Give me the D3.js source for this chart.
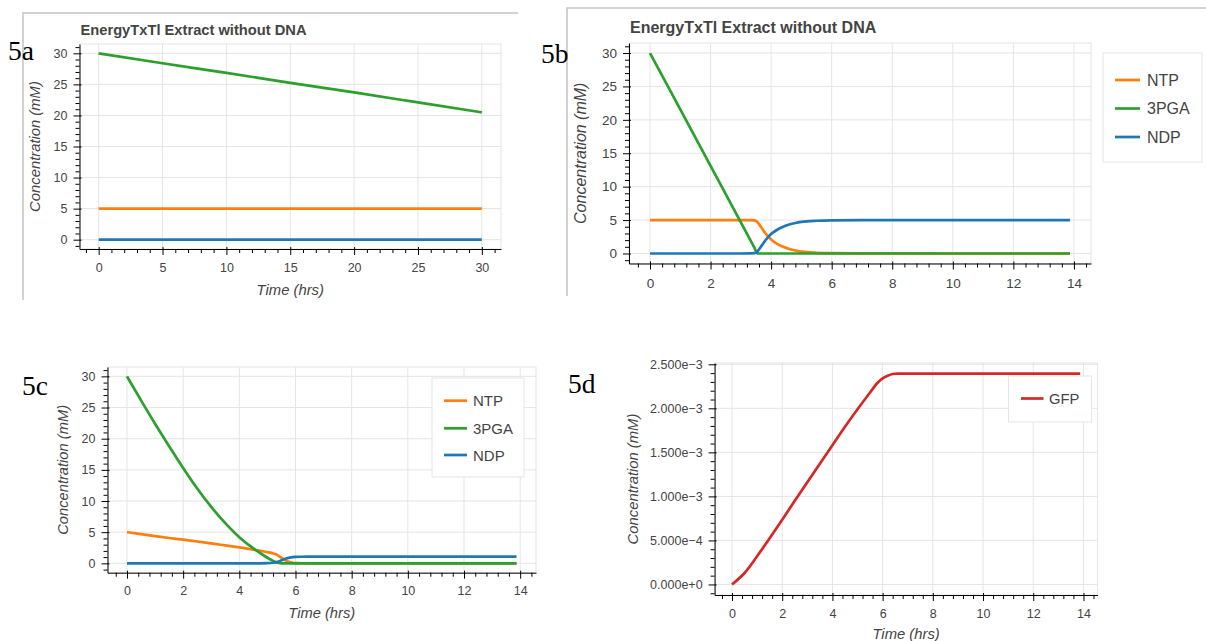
<!DOCTYPE html>
<html><head><meta charset="utf-8">
<script src="https://cdn.jsdelivr.net/npm/d3@7"></script>
<style>body{margin:0;background:#fff;} svg{display:block;}</style>
</head><body>
<svg id="c" width="1206" height="641"></svg>
<script>
// ---------------- data ----------------
const xTicks5a = [0, 5, 10, 15, 20, 25, 30];
const xTicksHrs = [0, 2, 4, 6, 8, 10, 12, 14];
const yTicksConc = [0, 5, 10, 15, 20, 25, 30];
const yTicksGFP = [0, 0.0005, 0.001, 0.0015, 0.002, 0.0025];

const titleText = "EnergyTxTl Extract without DNA";
const xTitle = "Time (hrs)";
const yTitle = "Concentration (mM)";

// 5a
const timeA = [0, 5, 10, 15, 20, 25, 30];
const ntpA  = [5, 5, 5, 5, 5, 5, 5];
const pgaA  = [30, 28.4, 26.85, 25.25, 23.7, 22.1, 20.5];
const ndpA  = [0, 0, 0, 0, 0, 0, 0];

// 5b
const timeB = [0, 1, 2, 3, 3.3, 3.45, 3.55, 3.6, 3.7, 3.8, 3.9, 4.0, 4.2, 4.4, 4.6, 4.8, 5.0, 5.5, 6.0, 7.0, 10, 13.87];
const ntpB  = [5, 5, 5, 5, 5, 4.95, 4.7, 4.4, 3.75, 3.1, 2.55, 2.1, 1.45, 1.0, 0.67, 0.44, 0.28, 0.1, 0.04, 0.01, 0, 0];
const pgaB  = [30, 21.55, 13.1, 4.65, 2.11, 0.85, 0, 0, 0, 0, 0, 0, 0, 0, 0, 0, 0, 0, 0, 0, 0, 0];
const ndpB  = [0, 0, 0, 0, 0.02, 0.05, 0.3, 0.6, 1.25, 1.9, 2.45, 2.9, 3.55, 4.0, 4.33, 4.56, 4.72, 4.9, 4.96, 4.99, 5, 5];

// 5c
const timeC = [0, 0.5, 1, 1.5, 2, 2.5, 3, 3.5, 4, 4.5, 5, 5.2, 5.3, 5.4, 5.5, 5.6, 5.7, 5.8, 5.9, 6.0, 6.2, 6.5, 7, 10, 13.87];
const ntpC  = [5, 4.68, 4.37, 4.07, 3.8, 3.5, 3.2, 2.88, 2.55, 2.2, 1.8, 1.6, 1.45, 1.2, 0.9, 0.6, 0.38, 0.2, 0.1, 0.05, 0.02, 0, 0, 0, 0];
const pgaC  = [30, 26.15, 22.4, 18.8, 15.3, 12.0, 9.05, 6.45, 4.2, 2.4, 0.9, 0.4, 0.18, 0.05, 0, 0, 0, 0, 0, 0, 0, 0, 0, 0, 0];
const ndpC  = [0, 0, 0, 0, 0, 0, 0, 0, 0, 0, 0.03, 0.1, 0.18, 0.3, 0.48, 0.66, 0.82, 0.93, 1.0, 1.04, 1.06, 1.07, 1.07, 1.07, 1.07];

// 5d
const timeD = [0, 0.5, 1, 1.5, 2, 2.5, 3, 3.5, 4, 4.5, 5, 5.5, 5.8, 6.0, 6.2, 6.4, 6.6, 7, 10, 13.87];
const gfpD  = [0, 0.00013, 0.00032, 0.000525, 0.000735, 0.00095, 0.00116, 0.00137, 0.00158, 0.00179, 0.00199, 0.00218, 0.00229, 0.00234, 0.00237, 0.00239, 0.002395, 0.002395, 0.002395, 0.002395];

const seriesColor = {"NTP": "#ff7f0e", "3PGA": "#2ca02c", "NDP": "#1f77b4", "GFP": "#d62728"};

// ---------------- layout ----------------
const FONT = "'Liberation Sans', Arial, Helvetica, sans-serif";
const SERIF = "'Liberation Serif', 'Times New Roman', serif";

const panels = [
  { tag: "5a", tagX: 8, tagY: 60, frame: "M23,300V13H518",
    title: true, titleSize: 14.7, titleY: 30,
    left: 79.5, right: 501, top: 44, bottom: 249,
    time: timeA, series: [["NTP", ntpA], ["3PGA", pgaA], ["NDP", ndpA]],
    xTicks: xTicks5a, xMinorStep: 1, yTicks: yTicksConc, yMinorStep: 1,
    tickFont: 12.5, xLabelGap: 19, yFmt: d => String(d),
    axisFont: 14.8, yTitleX: 35, xTitleY: 290, legend: null },
  { tag: "5b", tagX: 541, tagY: 63, frame: "M567,296V8H1206",
    title: true, titleSize: 16, titleY: 27,
    left: 629, right: 1091, top: 43, bottom: 263.5,
    time: timeB, series: [["NTP", ntpB], ["3PGA", pgaB], ["NDP", ndpB]],
    xTicks: xTicksHrs, xMinorStep: 0.4, yTicks: yTicksConc, yMinorStep: 1,
    tickFont: 13.5, xLabelGap: 20, yFmt: d => String(d),
    axisFont: 16, yTitleX: 580, xTitleY: null,
    legend: { x0: 1103, x1: 1202, y0: 53, y1: 162, rows: [80, 108.5, 137], lx0: 1115, lx1: 1140, tx: 1147, size: 16 } },
  { tag: "5c", tagX: 22, tagY: 395, frame: null,
    title: false,
    left: 107.5, right: 536, top: 367, bottom: 572.7,
    time: timeC, series: [["NTP", ntpC], ["3PGA", pgaC], ["NDP", ndpC]],
    xTicks: xTicksHrs, xMinorStep: 0.4, yTicks: yTicksConc, yMinorStep: 1,
    tickFont: 12.5, xLabelGap: 18.3, yFmt: d => String(d),
    axisFont: 14.7, yTitleX: 63.3, xTitleY: 613.3,
    legend: { x0: 432, x1: 524, y0: 378, y1: 477, rows: [400.7, 428.3, 455], lx0: 444, lx1: 467, tx: 473, size: 15 } },
  { tag: "5d", tagX: 568, tagY: 393, frame: null,
    title: false,
    left: 714.6, right: 1097.6, top: 363, bottom: 595,
    time: timeD, series: [["GFP", gfpD]],
    xTicks: xTicksHrs, xMinorStep: 0.4, yTicks: yTicksGFP, yMinorStep: 0.0001,
    tickFont: 12.5, xLabelGap: 18.3, yFmt: d => d3.format(".3e")(d).replace("-", "\u2212"),
    axisFont: 14.8, yTitleX: 633.3, xTitleY: 633.5,
    legend: { x0: 1008.5, x1: 1091.5, y0: 376, y1: 422, rows: [398.5], lx0: 1021, lx1: 1043.5, tx: 1049, size: 14.8 } }
];

// ---------------- drawing ----------------
const svg = d3.select("#c");
svg.append("rect").attr("width", 1206).attr("height", 641).attr("fill", "#fff");

function padExtent(ext) {
  const span = ext[1] - ext[0];
  return [ext[0] - 0.05 * span, ext[1] + 0.05 * span];
}
function minorTicks(domain, step, majors) {
  const out = [];
  const i0 = Math.ceil(domain[0] / step - 1e-9), i1 = Math.floor(domain[1] / step + 1e-9);
  for (let i = i0; i <= i1; i++) {
    const v = i * step;
    if (!majors.some(m => Math.abs(m - v) < step * 1e-3)) out.push(v);
  }
  return out;
}

panels.forEach(p => {
  const g = svg.append("g");
  const x = d3.scaleLinear().domain(padExtent(d3.extent(p.time))).range([p.left, p.right]);
  const allY = p.series.flatMap(s => s[1]);
  const y = d3.scaleLinear().domain(padExtent(d3.extent(allY))).range([p.bottom, p.top]);

  // frame around screenshot
  if (p.frame) g.append("path").attr("d", p.frame).attr("fill", "none").attr("stroke", "#c4c4c4").attr("stroke-width", 1.5);

  // grid
  g.append("g").selectAll("line").data(p.xTicks).join("line")
    .attr("x1", d => x(d)).attr("x2", d => x(d)).attr("y1", p.top).attr("y2", p.bottom)
    .attr("stroke", "#e5e5e5").attr("stroke-width", 1);
  g.append("g").selectAll("line").data(p.yTicks).join("line")
    .attr("y1", d => y(d)).attr("y2", d => y(d)).attr("x1", p.left).attr("x2", p.right)
    .attr("stroke", "#e5e5e5").attr("stroke-width", 1);
  g.append("rect").attr("x", p.left).attr("y", p.top).attr("width", p.right - p.left).attr("height", p.bottom - p.top)
    .attr("fill", "none").attr("stroke", "#e5e5e5");

  // lines
  const line = d3.line().x((v, i) => x(p.time[i])).y(v => y(v)).curve(d3.curveMonotoneX);
  p.series.forEach(([name, vals]) => {
    g.append("path").datum(vals).attr("d", line).attr("fill", "none")
      .attr("stroke", seriesColor[name]).attr("stroke-width", 2.7).attr("stroke-linecap", "butt");
  });

  // axes
  const yMinor = minorTicks(y.domain(), p.yMinorStep, p.yTicks);
  const xMinor = minorTicks(x.domain(), p.xMinorStep, p.xTicks);

  const gy = g.append("g").attr("transform", `translate(${p.left},0)`);
  gy.call(d3.axisLeft(y).tickValues(yMinor).tickSize(4).tickSizeOuter(0).tickFormat(""));
  gy.select(".domain").remove();
  const gyM = g.append("g").attr("transform", `translate(${p.left},0)`);
  gyM.call(d3.axisLeft(y).tickValues(p.yTicks).tickSize(6).tickSizeOuter(0).tickPadding(6).tickFormat(p.yFmt));
  gyM.selectAll(".tick line").attr("x1", 2);
  const gx = g.append("g").attr("transform", `translate(0,${p.bottom})`);
  gx.call(d3.axisBottom(x).tickValues(xMinor).tickSize(4).tickSizeOuter(0).tickFormat(""));
  gx.select(".domain").remove();
  const pad = p.xLabelGap - 6 - 0.36 * p.tickFont;
  const gxM = g.append("g").attr("transform", `translate(0,${p.bottom})`);
  gxM.call(d3.axisBottom(x).tickValues(p.xTicks).tickSize(6).tickSizeOuter(0).tickPadding(pad).tickFormat(d => String(d)));
  gxM.selectAll(".tick line").attr("y1", -2);

  [gy, gyM, gx, gxM].forEach(a => {
    a.selectAll("line").attr("stroke", "#000").attr("stroke-width", 1);
    a.selectAll(".domain").attr("stroke", "#000").attr("stroke-width", 1);
    a.selectAll("text").attr("fill", "#444").style("font-family", FONT).style("font-size", p.tickFont + "px");
  });

  // axis titles
  const cy = (p.top + p.bottom) / 2;
  g.append("text").attr("transform", `translate(${p.yTitleX},${cy}) rotate(-90)`)
    .attr("text-anchor", "middle").attr("dominant-baseline", "central")
    .style("font-family", FONT).style("font-size", p.axisFont + "px").style("font-style", "italic")
    .attr("fill", "#444").text(yTitle);
  if (p.xTitleY != null) {
    g.append("text").attr("x", (p.left + p.right) / 2).attr("y", p.xTitleY)
      .attr("text-anchor", "middle").attr("dominant-baseline", "central")
      .style("font-family", FONT).style("font-size", p.axisFont + "px").style("font-style", "italic")
      .attr("fill", "#444").text(xTitle);
  }

  // title
  if (p.title) {
    g.append("text").attr("x", p.left + 1).attr("y", p.titleY).attr("dominant-baseline", "central")
      .style("font-family", FONT).style("font-size", p.titleSize + "px").style("font-weight", "bold")
      .attr("fill", "#444").text(titleText);
  }

  // legend
  if (p.legend) {
    const L = p.legend;
    g.append("rect").attr("x", L.x0).attr("y", L.y0).attr("width", L.x1 - L.x0).attr("height", L.y1 - L.y0)
      .attr("fill", "#fff").attr("fill-opacity", 0.95).attr("stroke", "#e5e5e5");
    p.series.forEach(([name], i) => {
      g.append("line").attr("x1", L.lx0).attr("x2", L.lx1).attr("y1", L.rows[i]).attr("y2", L.rows[i])
        .attr("stroke", seriesColor[name]).attr("stroke-width", 2.7);
      g.append("text").attr("x", L.tx).attr("y", L.rows[i]).attr("dominant-baseline", "central")
        .style("font-family", FONT).style("font-size", L.size + "px").attr("fill", "#444").text(name);
    });
  }

  // panel tag
  g.append("text").attr("x", p.tagX).attr("y", p.tagY)
    .style("font-family", SERIF).style("font-size", "27.5px").attr("fill", "#000").text(p.tag);
});
</script>
</body></html>
